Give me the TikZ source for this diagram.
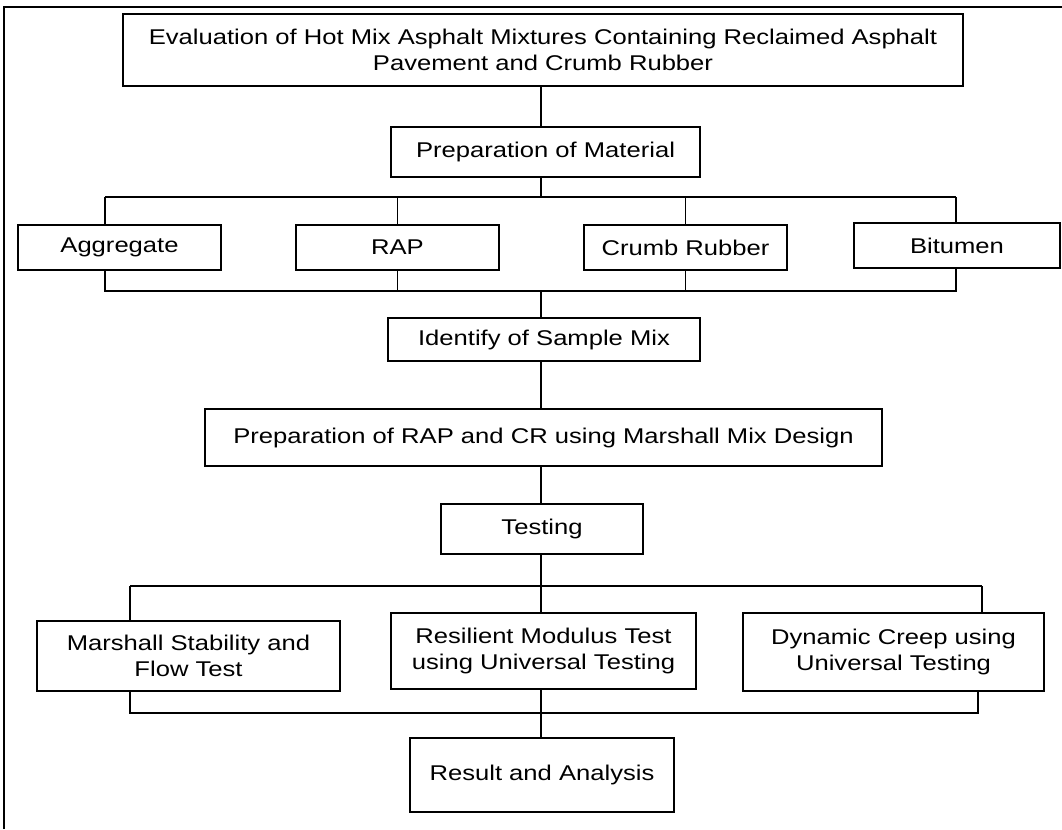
\documentclass[tikz,border=0pt]{standalone}
\usepackage{fontspec}
\setmainfont{Liberation Sans}[FakeStretch=1.2]
\tikzset{every picture/.style={line width=0.75pt}}
\tikzset{
	box/.style={draw, line width=1.6pt, align=center, inner sep=0pt, font=\fontsize{16}{19}\selectfont},
	dims/.style 2 args={minimum width=#1*0.75pt, minimum height=#2*0.75pt},
	link/.style={line width=1.2pt}}

\begin{document}
\begin{tikzpicture}[x=0.75pt,y=0.75pt,yscale=-1,xscale=1]
	\useasboundingbox (0,0) rectangle (1062,829);
	%frame
	\draw [link] (4,829) -- (4,7) -- (1062,7) ;

	%boxes
	\node [box, dims={840}{72}] (title) at (543,50) {Evaluation of Hot Mix Asphalt Mixtures Containing Reclaimed Asphalt\\Pavement and Crumb Rubber};
	\node [box, dims={309}{50}] (prep) at (545.5,152) {Preparation of Material};
	\node [box, dims={203}{45}] (agg) at (119.5,247.5) {Aggregate};
	\node [box, dims={203}{45}] (rap) at (397.5,247.5) {RAP};
	\node [box, dims={203}{45}] (crumb) at (685.5,247.5) {Crumb Rubber};
	\node [box, dims={206}{45}] (bit) at (957,245.5) {Bitumen};
	\node [box, dims={312}{43}] (ident) at (544,339.5) {Identify of Sample Mix};
	\node [box, dims={677}{57}] (design) at (543.5,437.5) {Preparation of RAP and CR using Marshall Mix Design};
	\node [box, dims={202}{50}] (test) at (542,529) {Testing};
	\node [box, dims={303}{70}] (marsh) at (188.5,656) {Marshall Stability and\\Flow Test};
	\node [box, dims={305}{76}] (resil) at (543.5,651) {Resilient Modulus Test\\using Universal Testing};
	\node [box, dims={301}{78}] (creep) at (893.5,652) {Dynamic Creep using\\Universal Testing};
	\node [box, dims={264}{74}] (result) at (542,775) {Result and Analysis};

	%bus points
	\coordinate (upL) at (105,197);
	\coordinate (upM) at (541,197);
	\coordinate (upR) at (956,197);
	\coordinate (loL) at (105,291);
	\coordinate (loM) at (541,291);
	\coordinate (loR) at (956,291);
	\coordinate (tsL) at (130,586);
	\coordinate (tsM) at (541,586);
	\coordinate (tsR) at (982,586);
	\coordinate (rsL) at (130,713);
	\coordinate (rsM) at (541,713);
	\coordinate (rsR) at (978,713);

	%material branch
	\draw [link] (title.south -| upM) -- (prep.north -| upM) ;
	\draw [link] (prep.south -| upM) -- (upM) ;
	\draw [link] (upL) -- (upR) ;
	\draw [link] (upL) -- (agg.north -| upL) ;
	\draw [link] (rap.north |- upM) -- (rap.north) ;
	\draw [link] (crumb.north |- upM) -- (crumb.north) ;
	\draw [link] (upR) -- (bit.north -| upR) ;
	\draw [link] (agg.south -| loL) -- (loL) -- (loR) -- (bit.south -| loR) ;
	\draw [link] (rap.south) -- (rap.south |- loM) ;
	\draw [link] (crumb.south) -- (crumb.south |- loM) ;

	%main line
	\draw [link] (loM) -- (ident.north -| loM) ;
	\draw [link] (ident.south -| loM) -- (design.north -| loM) ;
	\draw [link] (design.south -| loM) -- (test.north -| loM) ;
	\draw [link] (test.south -| loM) -- (tsM) ;

	%testing branch
	\draw [link] (tsL) -- (tsR) ;
	\draw [link] (tsL) -- (marsh.north -| tsL) ;
	\draw [link] (tsM) -- (resil.north -| tsM) ;
	\draw [link] (tsR) -- (creep.north -| tsR) ;
	\draw [link] (marsh.south -| rsL) -- (rsL) -- (rsR) -- (creep.south -| rsR) ;
	\draw [link] (resil.south -| rsM) -- (result.north -| rsM) ;
\end{tikzpicture}
\end{document}
